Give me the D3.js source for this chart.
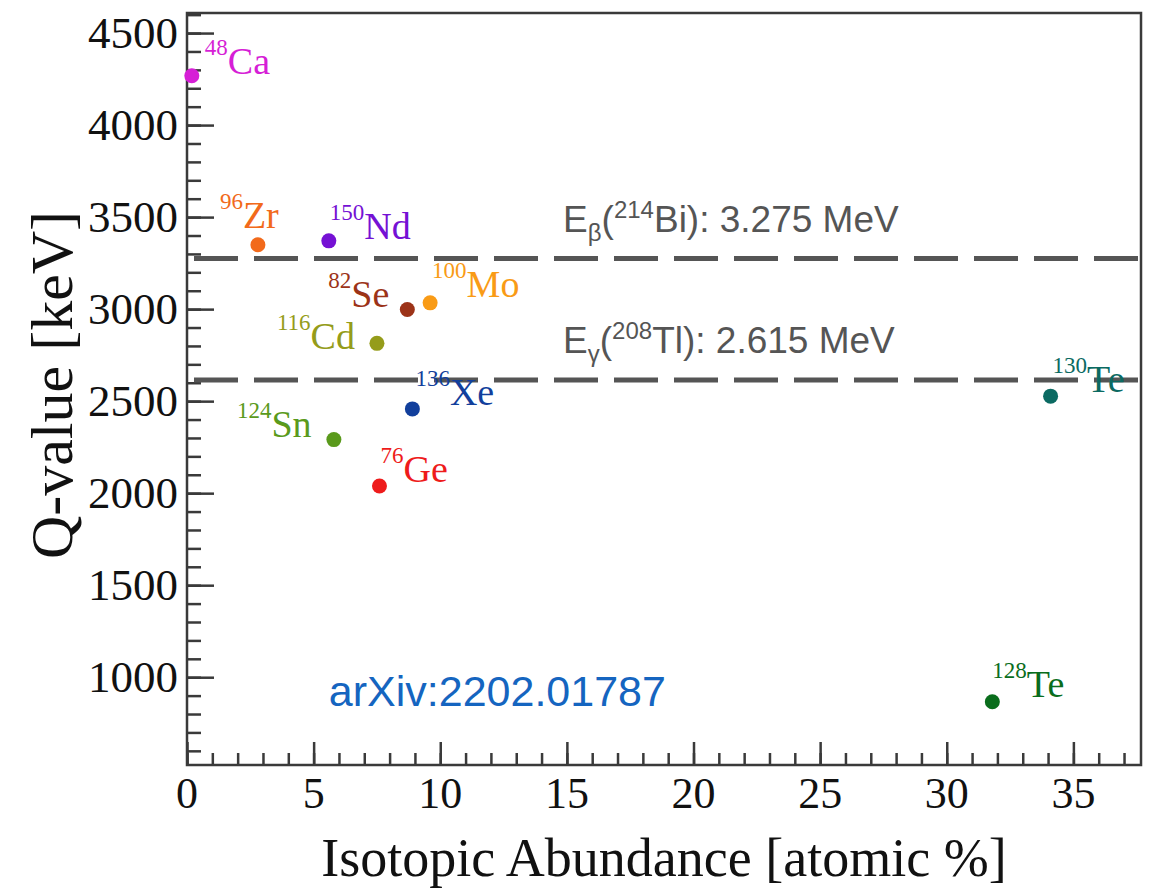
<!DOCTYPE html>
<html>
<head>
<meta charset="utf-8">
<script src="https://cdn.jsdelivr.net/npm/d3@7"></script>
<style>
  body { margin: 0; background: #fff; }
  svg text { font-family: "Liberation Serif", "Times New Roman", serif; }
  .sans { font-family: "Liberation Sans", Arial, sans-serif !important; }
</style>
</head>
<body>
<div id="chart"></div>
<script>
// isotope data (abundance in atomic %, Q-value in keV)
const massNumber = ["48", "96", "150", "82", "100", "116", "136", "124", "76", "130", "128"];
const element = ["Ca", "Zr", "Nd", "Se", "Mo", "Cd", "Xe", "Sn", "Ge", "Te", "Te"];
const abundance = [0.19, 2.8, 5.6, 8.7, 9.6, 7.5, 8.9, 5.8, 7.6, 34.1, 31.8];
const qValue = [4268, 3350, 3371, 2998, 3034, 2814, 2458, 2291, 2039, 2527, 867];

// background lines
const bgEnergy = [3275, 2615];
const bgSub = ["β", "γ"];
const bgSource = [["214", "Bi"], ["208", "Tl"]];
const bgText = ["3.275 MeV", "2.615 MeV"];

const xTicks = [0, 5, 10, 15, 20, 25, 30, 35];
const yTicks = [1000, 1500, 2000, 2500, 3000, 3500, 4000, 4500];

const colors = ["#d61fd6", "#f26a1b", "#7511d4", "#9c3318", "#f99b16", "#959c1a",
                "#123f9c", "#5a9a1c", "#ee1b1b", "#0b6a62", "#0a6d1c"];
// label offsets from the marker, in px
const labelDx = [13, -38, 1, -79, 2, -100, 3, -97, 1, 2, 0];
const labelDy = [-2, -17, -2, -2, -6, 6, -4, -3, -4, -4, -5];

let width = 1149, height = 891;
let margin = { top: 13, right: 8, bottom: 126, left: 187 };

let svg = d3.select("#chart").append("svg")
  .attr("width", width)
  .attr("height", height);

svg.append("rect").attr("width", width).attr("height", height).attr("fill", "#fff");

let x = d3.scaleLinear().domain([0, 37.67]).range([margin.left, width - margin.right]);
let y = d3.scaleLinear().domain([523, 4609]).range([height - margin.bottom, margin.top]);

const axisColor = "#3a3a3a";

// minor ticks
let xMinor = d3.range(0, 38, 1), yMinor = d3.range(600, 4601, 100);

svg.append("g")
  .attr("transform", "translate(0," + y.range()[0] + ")")
  .call(d3.axisTop(x).tickValues(xMinor).tickSize(12).tickFormat(""))
  .call(g => g.select(".domain").remove());
svg.append("g")
  .attr("transform", "translate(0," + y.range()[0] + ")")
  .call(d3.axisTop(x).tickValues(xTicks).tickSize(23).tickFormat(""))
  .call(g => g.select(".domain").remove());
svg.append("g")
  .attr("transform", "translate(" + x.range()[0] + ",0)")
  .call(d3.axisRight(y).tickValues(yMinor).tickSize(14).tickFormat(""))
  .call(g => g.select(".domain").remove());
svg.append("g")
  .attr("transform", "translate(" + x.range()[0] + ",0)")
  .call(d3.axisRight(y).tickValues(yTicks).tickSize(27).tickFormat(""))
  .call(g => g.select(".domain").remove());

svg.selectAll(".tick line").attr("stroke", axisColor).attr("stroke-width", 2.5);

// tick labels
svg.append("g").selectAll("text")
  .data(xTicks).enter().append("text")
  .attr("x", (d) => x(d))
  .attr("y", y.range()[0] + 43)
  .attr("text-anchor", "middle")
  .attr("font-size", "44px")
  .attr("fill", "#111")
  .text((d) => d);

svg.append("g").selectAll("text")
  .data(yTicks).enter().append("text")
  .attr("x", x.range()[0] - 9)
  .attr("y", (d) => y(d) + 15)
  .attr("text-anchor", "end")
  .attr("font-size", "45px")
  .attr("fill", "#111")
  .text((d) => d);

// frame
svg.append("rect")
  .attr("x", x.range()[0])
  .attr("y", y.range()[1])
  .attr("width", x.range()[1] - x.range()[0])
  .attr("height", y.range()[0] - y.range()[1])
  .attr("fill", "none")
  .attr("stroke", axisColor)
  .attr("stroke-width", 2.5);

// axis titles
svg.append("text")
  .attr("x", (x.range()[0] + x.range()[1]) / 2)
  .attr("y", 876)
  .attr("text-anchor", "middle")
  .attr("font-size", "54px")
  .attr("fill", "#111")
  .text("Isotopic Abundance [atomic %]");

svg.append("text")
  .attr("transform", "translate(72," + ((y.range()[0] + y.range()[1]) / 2 - 4) + ") rotate(-90)")
  .attr("text-anchor", "middle")
  .attr("font-size", "60px")
  .attr("fill", "#111")
  .text("Q-value [keV]");

// background lines
svg.append("g").selectAll("line")
  .data(bgEnergy).enter().append("line")
  .attr("x1", x.range()[0] + 7)
  .attr("x2", x.range()[1])
  .attr("y1", (d) => y(d))
  .attr("y2", (d) => y(d))
  .attr("stroke", "#555")
  .attr("stroke-width", 5)
  .attr("stroke-dasharray", "44,16");

let bgLabel = svg.append("g").selectAll("text")
  .data(bgEnergy).enter().append("text")
  .attr("class", "sans")
  .attr("x", x(14.85))
  .attr("y", (d) => y(d) - 27)
  .attr("font-size", "37px")
  .attr("fill", "#555");
bgLabel.append("tspan").text("E");
bgLabel.append("tspan").attr("font-size", "24px").attr("dy", 9).text((d, i) => bgSub[i]);
bgLabel.append("tspan").attr("dy", -9).text("(");
bgLabel.append("tspan").attr("font-size", "24px").attr("dy", -14).text((d, i) => bgSource[i][0]);
bgLabel.append("tspan").attr("dy", 14).text((d, i) => bgSource[i][1] + "): " + bgText[i]);

// markers
let idx = d3.range(abundance.length);

svg.append("g").selectAll("circle")
  .data(idx).enter().append("circle")
  .attr("cx", (i) => x(abundance[i]))
  .attr("cy", (i) => y(qValue[i]))
  .attr("r", 7.5)
  .attr("fill", (i) => colors[i]);

let lab = svg.append("g").selectAll("text")
  .data(idx).enter().append("text")
  .attr("x", (i) => x(abundance[i]) + labelDx[i])
  .attr("y", (i) => y(qValue[i]) + labelDy[i])
  .attr("fill", (i) => colors[i]);
lab.append("tspan").attr("font-size", "23px").attr("dy", -19).text((i) => massNumber[i]);
lab.append("tspan").attr("font-size", "38px").attr("dy", 19).text((i) => element[i]);

// reference tag
svg.append("text")
  .attr("class", "sans")
  .attr("x", x(5.6))
  .attr("y", 706)
  .attr("font-size", "43px")
  .attr("fill", "#1565c0")
  .text("arXiv:2202.01787");
</script>
</body>
</html>
